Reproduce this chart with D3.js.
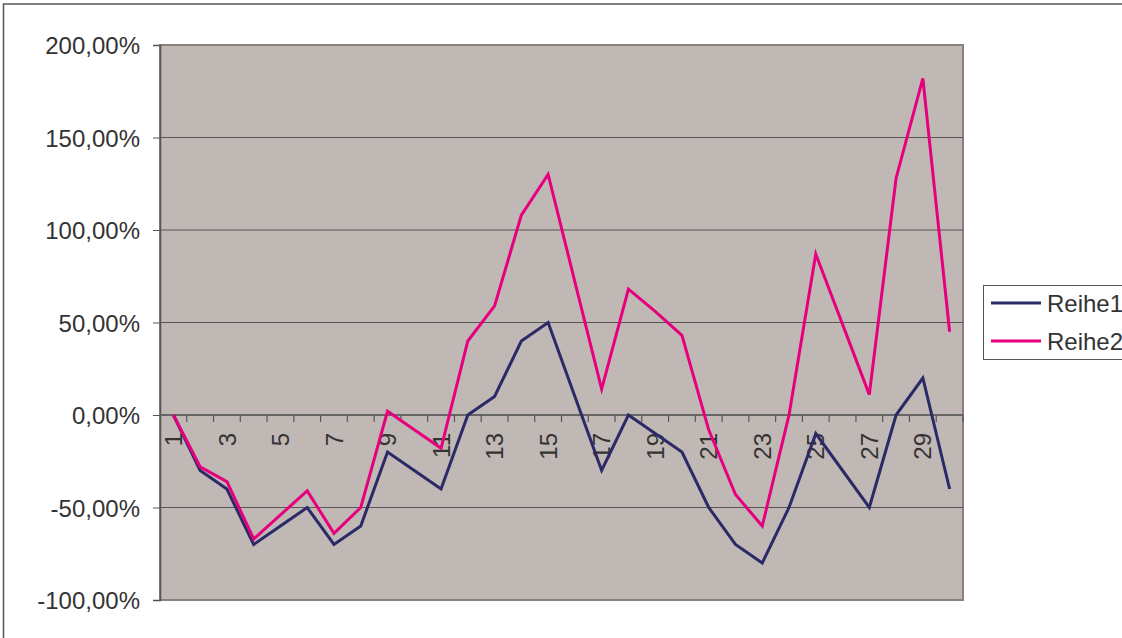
<!DOCTYPE html>
<html>
<head>
<meta charset="utf-8">
<script src="https://cdn.jsdelivr.net/npm/d3@7"></script>
<style>
  html, body { margin: 0; padding: 0; background: #fff; overflow: hidden; }
  text { font-family: Arial, "Liberation Sans", sans-serif; fill: #333; }
</style>
</head>
<body>
<div id="chart"></div>
<script>
// ==== Data ====
const categories = d3.range(1, 31);
const reihe1 = [0, -30, -40, -70, -60, -50, -70, -60, -20, -30,
                -40, 0, 10, 40, 50, 10, -30, 0, -10, -20,
                -50, -70, -80, -50, -10, -30, -50, 0, 20, -40];
const reihe2 = [0, -28, -36, -67, -54, -41, -64, -50, 2, -8,
                -18, 40, 59, 108, 130, 72, 14, 68, 56, 43,
                -8, -43, -60, 0, 87, 49, 11, 128, 182, 45];
const yTicks = [-100, -50, 0, 50, 100, 150, 200];
const seriesNames = ["Reihe1", "Reihe2"];
const seriesColors = ["#2b2a66", "#e6007e"];

// ==== Setup ====
const width = 1122, height = 638;
const plot = { left: 160, top: 45, right: 963, bottom: 600 };

const svg = d3.select("#chart").append("svg")
  .attr("width", width)
  .attr("height", height);

// outer chart border (runs off the right / bottom edge)
svg.append("rect")
  .attr("x", 3.5).attr("y", 4)
  .attr("width", 1300).attr("height", 800)
  .attr("fill", "#fff")
  .attr("stroke", "#555").attr("stroke-width", 1.5);

const x = d3.scaleBand()
  .domain(categories)
  .range([plot.left, plot.right])
  .padding(0);

const y = d3.scaleLinear()
  .domain([-100, 200])
  .range([plot.bottom, plot.top]);

// German style: comma decimal, plain hyphen for minus
const fmt = v => d3.format(".2f")(v).replace(".", ",").replace("\u2212", "-") + "%";

// plot background
svg.append("rect")
  .attr("x", plot.left).attr("y", plot.top)
  .attr("width", plot.right - plot.left)
  .attr("height", plot.bottom - plot.top)
  .attr("fill", "#c0b8b5")
  .attr("stroke", "#8c807c").attr("stroke-width", 2);

// gridlines
svg.append("g")
  .selectAll("line")
  .data(yTicks.filter(t => t !== 0 && t !== -100 && t !== 200))
  .join("line")
  .attr("x1", plot.left).attr("x2", plot.right)
  .attr("y1", d => y(d)).attr("y2", d => y(d))
  .attr("stroke", "#5a5555").attr("stroke-width", 1);

// y axis
const yAxis = svg.append("g")
  .attr("transform", `translate(${plot.left},0)`)
  .call(d3.axisLeft(y).tickValues(yTicks).tickFormat(fmt).tickSize(7).tickPadding(13));
yAxis.select(".domain").attr("stroke", "#555").attr("stroke-width", 1.5);
yAxis.selectAll(".tick line").attr("stroke", "#555");
yAxis.selectAll(".tick text")
  .style("font-size", "24px")
  .attr("fill", "#333")
  .attr("dy", "0.36em");

// x axis at 0 line
const xAxis = svg.append("g")
  .attr("transform", `translate(0,${y(0)})`);
xAxis.append("line")
  .attr("x1", plot.left).attr("x2", plot.right)
  .attr("y1", 0).attr("y2", 0)
  .attr("stroke", "#666").attr("stroke-width", 2);
const boundaries = categories.map(c => x(c)).concat([plot.right]);
xAxis.selectAll(".xtick")
  .data(boundaries.slice(1))
  .join("line")
  .attr("class", "xtick")
  .attr("x1", d => d).attr("x2", d => d)
  .attr("y1", 0).attr("y2", 7)
  .attr("stroke", "#555").attr("stroke-width", 1.2);
xAxis.selectAll(".xlabel")
  .data(categories.filter(c => c % 2 === 1))
  .join("text")
  .attr("class", "xlabel")
  .attr("transform", d => `translate(${x(d) + x.bandwidth() / 2},18) rotate(-90)`)
  .attr("text-anchor", "end")
  .attr("dy", "0.36em")
  .style("font-size", "24px")
  .text(d => d);

// lines
const line = d3.line()
  .x((d, i) => x(categories[i]) + x.bandwidth() / 2)
  .y(d => y(d));

[reihe1, reihe2].forEach((s, i) => {
  svg.append("path")
    .datum(s)
    .attr("fill", "none")
    .attr("stroke", seriesColors[i])
    .attr("stroke-width", 3)
    .attr("stroke-linejoin", "miter")
    .attr("d", line);
});

// legend
const legend = svg.append("g").attr("transform", "translate(983,285)");
legend.append("rect")
  .attr("x", 0.5).attr("y", 0.5)
  .attr("width", 200).attr("height", 74)
  .attr("fill", "#fff")
  .attr("stroke", "#555").attr("stroke-width", 1);
seriesNames.forEach((name, i) => {
  const ly = 18 + i * 38;
  legend.append("line")
    .attr("x1", 8).attr("x2", 58)
    .attr("y1", ly).attr("y2", ly)
    .attr("stroke", seriesColors[i]).attr("stroke-width", 3);
  legend.append("text")
    .attr("x", 64).attr("y", ly)
    .attr("dy", "0.36em")
    .style("font-size", "24px")
    .text(name);
});
</script>
</body>
</html>
